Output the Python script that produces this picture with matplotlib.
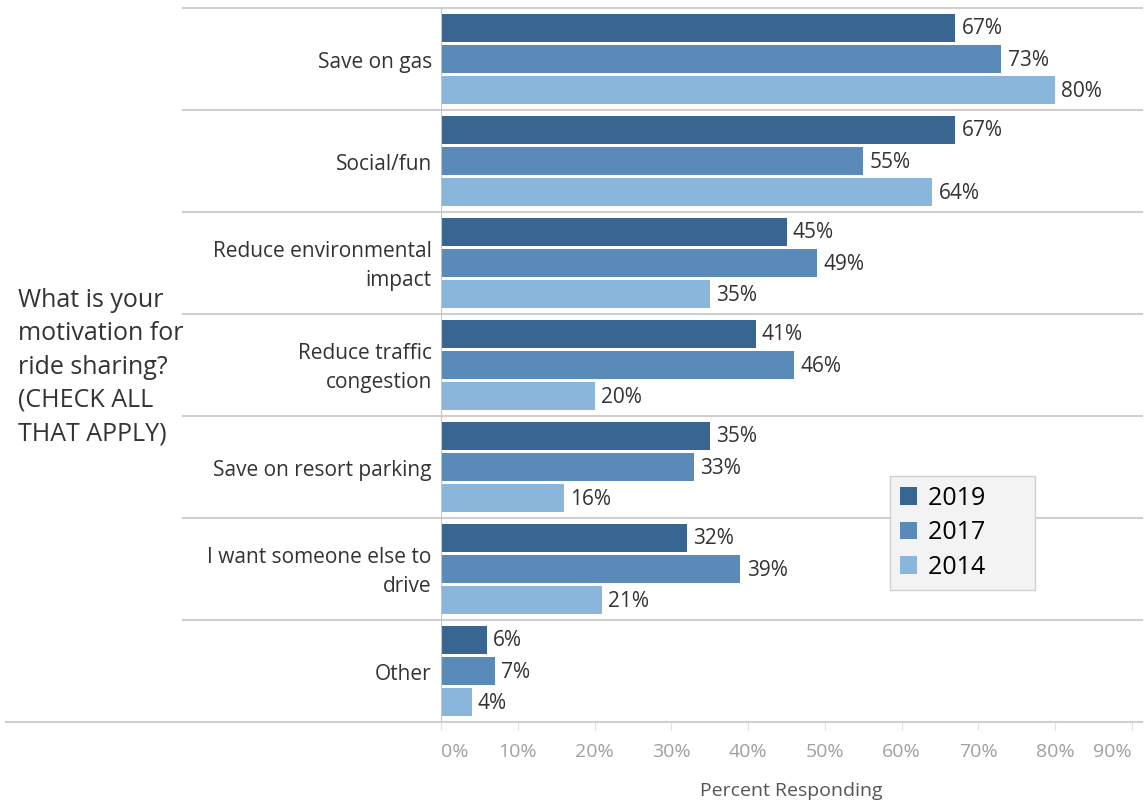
import matplotlib
matplotlib.use("Agg")
import numpy as np
from matplotlib import pyplot as plt
from matplotlib.patches import Patch

plt.rcParams['font.family'] = ['Open Sans', 'DejaVu Sans']

categories = ["Save on gas", "Social/fun", "Reduce environmental\nimpact",
              "Reduce traffic\ncongestion", "Save on resort parking",
              "I want someone else to\ndrive", "Other"]
years = ["2019", "2017", "2014"]
pct_2019 = [67, 67, 45, 41, 35, 32, 6]
pct_2017 = [73, 55, 49, 46, 33, 39, 7]
pct_2014 = [80, 64, 35, 20, 16, 21, 4]
colors = ["#386592", "#5a8ab7", "#89b6da"]
xticks = list(range(0, 100, 10))

fig = plt.figure(figsize=(11.44, 8.02), dpi=100)
ax = fig.add_axes([441/1144, 80/802, 701/1144, 714/802])

n = len(categories)
ypos = np.arange(n)
offsets = [-0.305, 0.0, 0.305]
for vals, off, col in zip([pct_2019, pct_2017, pct_2014], offsets, colors):
    bars = ax.barh(ypos + off, vals, height=0.275, color=col, zorder=2)
    for b, v in zip(bars, vals):
        ax.text(v + 0.8, b.get_y() + b.get_height() / 2 + 0.01, f"{v}%",
                va="center", ha="left", fontsize=15, color="#333333")

ax.set_ylim(n - 0.5, -0.5)
ax.set_xlim(0, 91.3)

# band separators reaching into the label column
line_col = "#cfcfcf"
trans = ax.get_yaxis_transform()
for i in range(n + 1):
    y = i - 0.5
    x0 = -0.62 if i == n else -0.368
    ax.plot([x0, 1], [y, y], transform=trans, color=line_col, lw=1.5,
            clip_on=False, zorder=1)
ax.axvline(0, color="#c4c4c4", lw=1.5, zorder=3)

for y, cat in zip(ypos, categories):
    ax.text(-1.2, y + 0.03, cat, ha="right", va="center", fontsize=15,
            color="#333333", linespacing=1.55)

for s in ax.spines.values():
    s.set_visible(False)
ax.set_yticks([])
ax.set_xticks(xticks)
ax.set_xticklabels([f"{t}%" for t in xticks], fontsize=14, color="#a0a0a0")
ax.tick_params(axis="x", length=6, color="#e0e0e0", pad=9)
lbls = ax.get_xticklabels()
lbls[0].set_ha("left")
lbls[-1].set_ha("right")
ax.set_xlabel("Percent Responding", fontsize=14, color="#555555", labelpad=15)

fig.text(18/1144, 1 - 367/802, "What is your\nmotivation for\nride sharing?\n(CHECK ALL\nTHAT APPLY)",
         ha="left", va="center", fontsize=18, color="#333333", linespacing=1.44)

handles = [Patch(facecolor=c, edgecolor="none") for c in colors]
leg = ax.legend(handles, [y + "      " for y in years], loc="upper left",
                bbox_to_anchor=(0.64, 0.345),
                fontsize=18, frameon=True, fancybox=False, handlelength=0.7,
                handleheight=0.7, handletextpad=0.45, labelspacing=0.38,
                borderpad=0.4, borderaxespad=0)
leg.get_frame().set_facecolor("#f3f3f3")
leg.get_frame().set_edgecolor("#d0d0d0")
leg.get_frame().set_alpha(1)
leg.set_zorder(5)

fig.savefig("out.png", dpi=100)
